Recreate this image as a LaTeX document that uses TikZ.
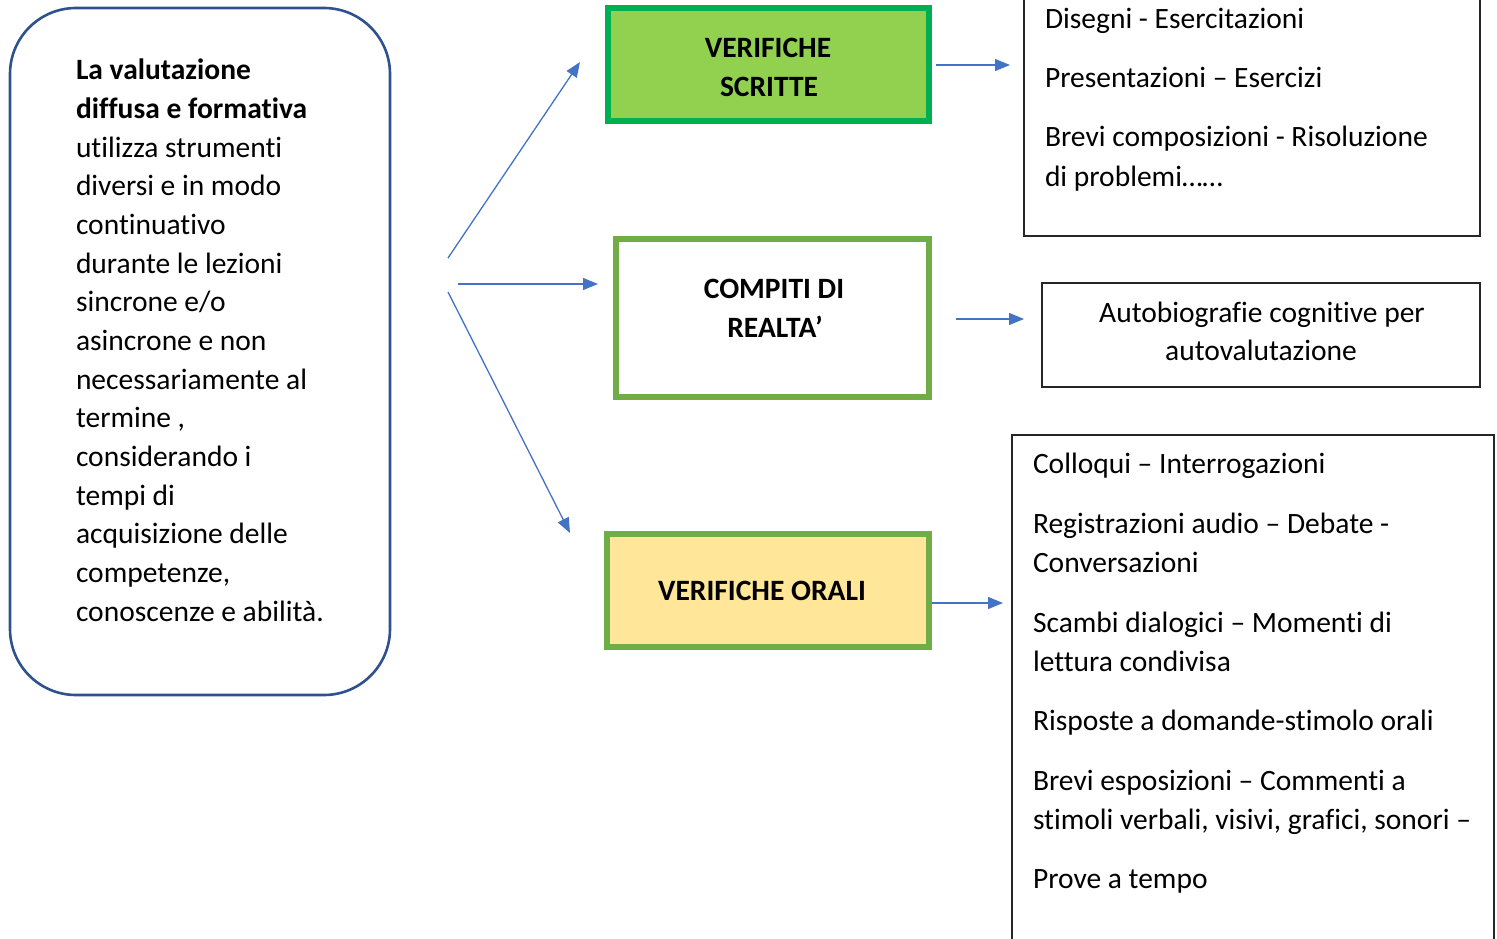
\documentclass[tikz,border=0pt]{standalone}
\usepackage{fontspec}
\setmainfont{Carlito}[Ligatures={NoCommon}]
\usetikzlibrary{arrows.meta}
\definecolor{frameblue}{RGB}{47,82,143}
\definecolor{arrowblue}{RGB}{68,114,196}
\definecolor{brightgreen}{RGB}{0,176,80}
\definecolor{lightgreen}{RGB}{146,208,80}
\definecolor{olivegreen}{RGB}{112,173,71}
\definecolor{paleyellow}{RGB}{255,230,153}
\begin{document}
\begin{tikzpicture}[x=1pt,y=-1pt,
  every node/.style={inner sep=0pt,outer sep=0pt},
  txt/.style={anchor=base west,font=\fontsize{29.5}{38.65}\selectfont},
  ctxt/.style={anchor=base,font=\fontsize{29.5}{38.65}\selectfont},
  btxt/.style={anchor=base,font=\fontsize{29.5}{38.65}\selectfont\bfseries},
  greenbox/.style={draw=olivegreen,line width=6pt},
  listbox/.style={draw=black!85,line width=1.4pt},
  conn/.style={draw=arrowblue,line width=1.3pt,-{Triangle[length=15pt,width=12pt]}}]
\useasboundingbox (0,0) rectangle (1497,939);
\clip (0,0) rectangle (1497,939);
% main rounded box
\node[draw=frameblue,line width=2.6pt,rounded corners=66pt,minimum width=380pt,minimum height=687pt] (main) at (200,351.5) {};
\foreach \t [count=\i from 0] in {{\textbf{La valutazione}},{\textbf{diffusa e formativa}},{utilizza strumenti},{diversi e in modo},{continuativo},{durante le lezioni},{sincrone e/o},{asincrone e non},{necessariamente al},{termine ,},{considerando i},{tempi di},{acquisizione delle},{competenze,},{conoscenze e abilità.}}
  \node[txt] (m\i) at (76,80+38.65*\i) {\t};
% category boxes
\node[draw=brightgreen,fill=lightgreen,line width=6pt,minimum width=321pt,minimum height=113pt] (vs) at (768.5,64.5) {};
\node[btxt] (vs1) at (768,58) {VERIFICHE};
\node[btxt] (vs2) at (769,97) {SCRITTE};
\node[greenbox,fill=white,minimum width=313pt,minimum height=158pt] (cr) at (772.5,318) {};
\node[btxt] (cr1) at (774,298) {COMPITI DI};
\node[btxt] (cr2) at (775,337) {REALTA’};
\node[greenbox,fill=paleyellow,minimum width=322pt,minimum height=113pt] (vo) at (768,590.5) {};
\node[btxt] (vo1) at (762,600) {VERIFICHE ORALI};
% list boxes
\node[listbox,minimum width=456pt,minimum height=256pt] (l1) at (1252,108) {};
\node[txt] (l1a) at (1045,29) {Disegni - Esercitazioni};
\node[txt] (l1b) at (1045,88) {Presentazioni – Esercizi};
\node[txt] (l1c) at (1045,147) {Brevi composizioni - Risoluzione};
\node[txt] (l1d) at (1045,186) {di problemi……};
\node[listbox,minimum width=438pt,minimum height=104pt] (l2) at (1261,335) {};
\node[ctxt] (l2a) at (1262,322) {Autobiografie cognitive per};
\node[ctxt] (l2b) at (1261,360) {autovalutazione};
\node[listbox,minimum width=482pt,minimum height=540pt] (l3) at (1253,705) {};
\node[txt] (l3a) at (1033,473) {Colloqui – Interrogazioni};
\node[txt] (l3b) at (1033,533) {Registrazioni audio – Debate -};
\node[txt] (l3c) at (1033,572) {Conversazioni};
\node[txt] (l3d) at (1033,632) {Scambi dialogici – Momenti di};
\node[txt] (l3e) at (1033,671) {lettura condivisa};
\node[txt] (l3f) at (1033,730) {Risposte a domande-stimolo orali};
\node[txt] (l3g) at (1033,790) {Brevi esposizioni – Commenti a};
\node[txt] (l3h) at (1033,829) {stimoli verbali, visivi, grafici, sonori –};
\node[txt] (l3i) at (1033,888) {Prove a tempo};
% connector end points
\coordinate (s1) at (448,258);
\coordinate (e1) at (580,62);
\coordinate (s2) at (458,284);
\coordinate (e2) at (598,284);
\coordinate (s3) at (448,292);
\coordinate (e3) at (570,533);
\coordinate (s4) at (936,65);
\coordinate (e4) at (1010,65);
\coordinate (s5) at (956,319);
\coordinate (e5) at (1024,319);
\coordinate (s6) at (932,603);
\coordinate (e6) at (1003,603);
\draw[conn] (s1) -- (e1);
\draw[conn] (s2) -- (e2);
\draw[conn] (s3) -- (e3);
\draw[conn] (s4) -- (e4);
\draw[conn] (s5) -- (e5);
\draw[conn] (s6) -- (e6);
\end{tikzpicture}
\end{document}
